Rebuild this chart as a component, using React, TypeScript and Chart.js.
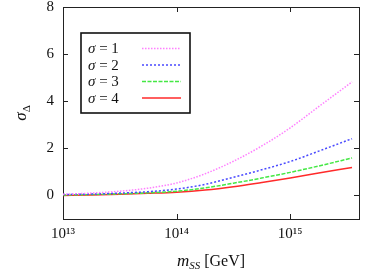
import React, { useEffect, useRef } from "react";
import { Chart, registerables } from "chart.js";

Chart.register(...registerables);

// ---- data ----
const massGeV = [1e13, 1.78e13, 3.16e13, 5.62e13, 1e14, 1.78e14, 3.16e14, 5.62e14, 1e15, 1.78e15, 3.5e15];
const sigma1 = [0.05, 0.1, 0.18, 0.31, 0.53, 0.92, 1.45, 2.1, 2.87, 3.77, 4.82];
const sigma2 = [0.04, 0.06, 0.1, 0.16, 0.27, 0.47, 0.77, 1.09, 1.44, 1.88, 2.41];
const sigma3 = [0.02, 0.04, 0.07, 0.11, 0.18, 0.32, 0.52, 0.74, 0.98, 1.25, 1.59];
const sigma4 = [0.0, 0.02, 0.05, 0.09, 0.14, 0.23, 0.37, 0.55, 0.74, 0.95, 1.19];
const seriesNames = ["σ = 1", "σ = 2", "σ = 3", "σ = 4"];
const xTickValues = [1e13, 1e14, 1e15];
const yTickValues = [0, 2, 4, 6, 8];

const SERIF = '"Liberation Serif", "DejaVu Serif", serif';
const colors = ["#ff80ff", "#4a4aff", "#44e844", "#ff2a2a"];
const dashes = [[1.5, 1.5], [2, 2], [4, 1.5], []];

const SUP: Record<string, string> = { "0": "⁰", "1": "¹", "2": "²", "3": "³", "4": "⁴", "5": "⁵", "6": "⁶", "7": "⁷", "8": "⁸", "9": "⁹", "-": "⁻" };
const sup = (n: number) => String(n).split("").map((c) => SUP[c] ?? c).join("");

const framePlugin = {
  id: "frame",
  beforeDatasetsDraw(chart: any) {
    const { ctx, chartArea: a, scales } = chart;
    ctx.save();
    ctx.strokeStyle = "#222";
    ctx.lineWidth = 1;
    ctx.strokeRect(Math.round(a.left) + 0.5, Math.round(a.top) + 0.5, Math.round(a.right - a.left), Math.round(a.bottom - a.top));
    const tl = 5;
    ctx.beginPath();
    for (const v of yTickValues) {
      const y = Math.round(scales.y.getPixelForValue(v)) + 0.5;
      ctx.moveTo(a.left, y); ctx.lineTo(a.left + tl, y);
      ctx.moveTo(a.right, y); ctx.lineTo(a.right - tl, y);
    }
    for (const v of xTickValues) {
      const x = Math.round(scales.x.getPixelForValue(v)) + 0.5;
      ctx.moveTo(x, a.bottom); ctx.lineTo(x, a.bottom - tl);
      ctx.moveTo(x, a.top); ctx.lineTo(x, a.top + tl);
    }
    ctx.stroke();
    ctx.restore();
  },
  afterDraw(chart: any) {
    const { ctx, chartArea: a } = chart;
    ctx.save();
    ctx.fillStyle = "#111";
    // x title
    ctx.textBaseline = "alphabetic";
    const fM = `italic 17px ${SERIF}`;
    const fS = `italic 11px ${SERIF}`;
    const fG = `16px ${SERIF}`;
    ctx.font = fM; const wM = ctx.measureText("m").width;
    ctx.font = fS; const wS = ctx.measureText("SS").width;
    ctx.font = fG; const wG = ctx.measureText(" [GeV]").width;
    let x0 = (a.left + a.right) / 2 - (wM + wS + wG) / 2;
    const by = 266;
    ctx.font = fM; ctx.fillText("m", x0, by); x0 += wM;
    ctx.font = fS; ctx.fillText("SS", x0, by + 3); x0 += wS;
    ctx.font = fG; ctx.fillText(" [GeV]", x0, by);
    // y title
    ctx.save();
    ctx.translate(26, (a.top + a.bottom) / 2);
    ctx.rotate(-Math.PI / 2);
    const fSig = `italic 17px ${SERIF}`;
    const fD = `11px ${SERIF}`;
    ctx.font = fSig; const wSig = ctx.measureText("σ").width;
    ctx.font = fD; const wD = ctx.measureText("Δ").width;
    const sx = -(wSig + wD) / 2;
    ctx.font = fSig; ctx.fillText("σ", sx, 0);
    ctx.font = fD; ctx.fillText("Δ", sx + wSig, 4);
    ctx.restore();
    // legend
    const bx = a.left + 18, byy = a.top + 26, bw = 109, bh = 80;
    ctx.strokeStyle = "#111";
    ctx.lineWidth = 1.6;
    ctx.strokeRect(bx, byy, bw, bh);
    seriesNames.forEach((name, i) => {
      const cy = byy + 15.4 + i * 16.5;
      const first = name.slice(0, 1);
      const rest = name.slice(1);
      ctx.fillStyle = "#111";
      ctx.font = `italic 15px ${SERIF}`;
      ctx.fillText(first, bx + 7, cy + 5);
      const w1 = ctx.measureText(first).width;
      ctx.font = `15px ${SERIF}`;
      ctx.fillText(rest, bx + 7 + w1, cy + 5);
      ctx.strokeStyle = colors[i];
      ctx.lineWidth = 1.5;
      ctx.setLineDash(dashes[i]);
      ctx.beginPath();
      ctx.moveTo(bx + 61, cy);
      ctx.lineTo(bx + 100, cy);
      ctx.stroke();
      ctx.setLineDash([]);
    });
    ctx.restore();
  },
};

export default function App() {
  const ref = useRef<HTMLCanvasElement | null>(null);
  useEffect(() => {
    document.body.style.margin = "0";
    const series = [sigma1, sigma2, sigma3, sigma4];
    const chart = new Chart(ref.current as HTMLCanvasElement, {
      type: "scatter",
      data: {
        datasets: series.map((s, i) => ({
          label: seriesNames[i],
          data: massGeV.map((m, j) => ({ x: m, y: s[j] })),
          showLine: true,
          pointRadius: 0,
          borderColor: colors[i],
          borderWidth: 1.5,
          borderDash: dashes[i],
          cubicInterpolationMode: "monotone" as const,
          fill: false,
        })),
      },
      options: {
        animation: false,
        responsive: false,
        layout: { padding: { top: 7, right: 23, left: 0, bottom: 0 } },
        plugins: { legend: { display: false }, tooltip: { enabled: false } },
        scales: {
          x: {
            type: "logarithmic",
            min: 1e13,
            max: 4.03e15,
            grid: { display: false, drawTicks: false },
            border: { display: false },
            afterBuildTicks: (s: any) => { s.ticks = xTickValues.map((v) => ({ value: v })); },
            afterFit: (s: any) => { s.height = 54; s.paddingLeft = 0; s.paddingRight = 0; },
            ticks: {
              autoSkip: false,
              maxRotation: 0,
              padding: 6,
              color: "#111",
              font: { family: SERIF, size: 15 },
              callback: (v: any) => "10" + sup(Math.round(Math.log10(Number(v)))),
            },
          },
          y: {
            type: "linear",
            min: -1,
            max: 8,
            grid: { display: false, drawTicks: false },
            border: { display: false },
            afterBuildTicks: (s: any) => { s.ticks = yTickValues.map((v) => ({ value: v })); },
            afterFit: (s: any) => { s.width = 63; s.paddingTop = 0; s.paddingBottom = 0; },
            ticks: {
              padding: 9,
              color: "#111",
              font: { family: SERIF, size: 15 },
              callback: (v: any) => String(v),
            },
          },
        },
      },
      plugins: [framePlugin],
    } as any);
    return () => chart.destroy();
  }, []);
  return <canvas ref={ref} width={382} height={273} style={{ display: "block" }} />;
}
